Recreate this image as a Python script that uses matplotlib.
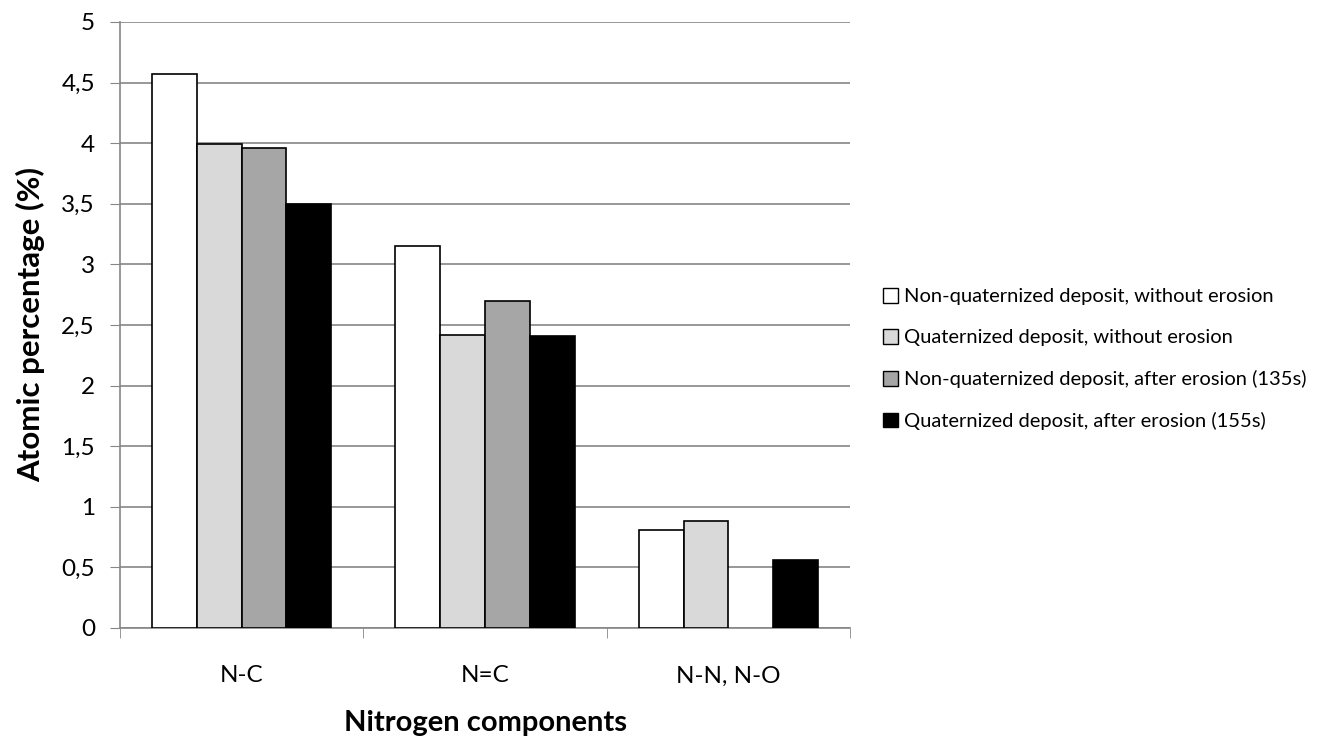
import numpy as np
import matplotlib.pyplot as plt
from matplotlib.ticker import FixedLocator, NullFormatter

categories = ["N-C", "N=C", "N-N, N-O"]
series_names = [
    "Non-quaternized deposit, without erosion",
    "Quaternized deposit, without erosion",
    "Non-quaternized deposit, after erosion (135s)",
    "Quaternized deposit, after erosion (155s)",
]
non_quat_no_erosion = [4.57, 3.15, 0.81]
quat_no_erosion = [3.99, 2.42, 0.88]
non_quat_erosion = [3.96, 2.70, np.nan]  # no bar for N-N, N-O
quat_erosion = [3.50, 2.41, 0.56]
yticks = [0, 0.5, 1, 1.5, 2, 2.5, 3, 3.5, 4, 4.5, 5]
ytick_labels = ["0", "0,5", "1", "1,5", "2", "2,5", "3", "3,5", "4", "4,5", "5"]

plt.rcParams['font.family'] = ['Lato', 'DejaVu Sans']

fig = plt.figure(figsize=(13.35, 7.44), dpi=100)
ax = fig.add_axes([120 / 1335, 116 / 744, 730 / 1335, 606 / 744])

series = [non_quat_no_erosion, quat_no_erosion, non_quat_erosion, quat_erosion]
colors = ["#ffffff", "#d9d9d9", "#a6a6a6", "#000000"]
x = np.arange(len(categories))
w = 0.184
for i, (vals, c, name) in enumerate(zip(series, colors, series_names)):
    ax.bar(x + (i - 1.5) * w, vals, w, color=c, edgecolor="black",
           linewidth=1.2, label=name, zorder=3)

ax.set_xlim(-0.5, 2.5)
ax.set_ylim(0, 5)
ax.set_yticks(yticks)
ax.set_yticklabels(ytick_labels, fontsize=17.5)
ax.yaxis.grid(True, color="#868686", linewidth=1.2, zorder=0)
ax.tick_params(axis="y", direction="out", length=7, color="#868686", pad=11)

ax.set_xticks(x)
ax.set_xticklabels(categories, fontsize=17.5)
ax.tick_params(axis="x", which="major", length=0, pad=27)
ax.xaxis.set_minor_locator(FixedLocator([-0.5, 0.5, 1.5, 2.5]))
ax.xaxis.set_minor_formatter(NullFormatter())
ax.tick_params(axis="x", which="minor", direction="out", length=7, color="#868686")

for s in ["top", "right"]:
    ax.spines[s].set_visible(False)
for s in ["left", "bottom"]:
    ax.spines[s].set_color("#868686")
    ax.spines[s].set_linewidth(1.2)

ax.set_ylabel("Atomic percentage (%)", fontsize=22.5, fontweight="bold", labelpad=12)
ax.set_xlabel("Nitrogen components", fontsize=21, fontweight="bold", labelpad=17)

leg = fig.legend(loc="center left", bbox_to_anchor=(873 / 1335, 1 - 359 / 744),
                 bbox_transform=fig.transFigure, frameon=False, borderpad=0,
                 fontsize=14.5, handlelength=0.75, handleheight=0.75,
                 handletextpad=0.3, labelspacing=1.18)
for h in leg.legend_handles:
    h.set_linewidth(1.0)

fig.savefig("out.png", dpi=100)
